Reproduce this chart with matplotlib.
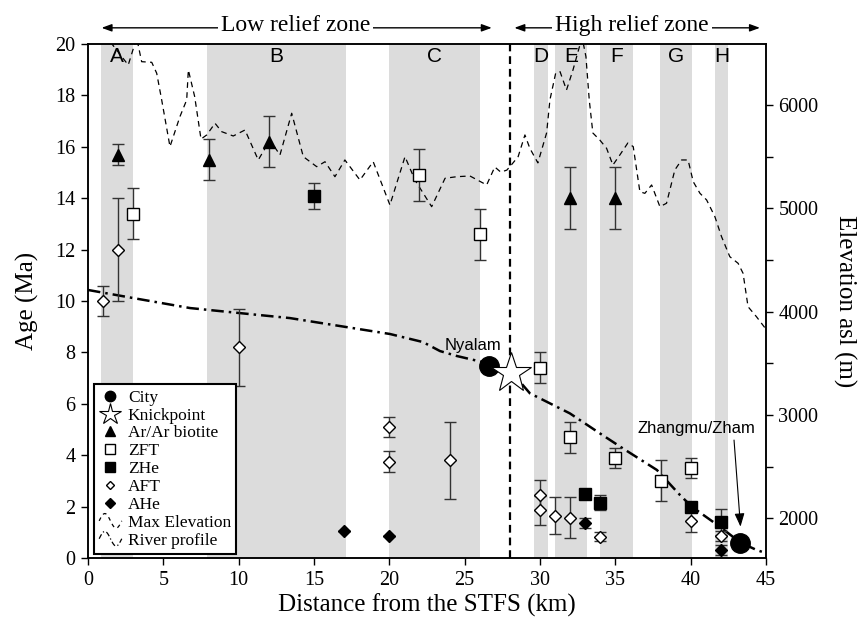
import numpy as np
import matplotlib
matplotlib.use("Agg")
import matplotlib.pyplot as plt
from matplotlib.lines import Line2D
from matplotlib.legend_handler import HandlerLine2D

SERIF = "Liberation Serif"
SANS = "Liberation Sans"

# sample ages (Ma) vs distance from STFS (km)
ar_x = [2, 8, 12, 32, 35]
ar_age = [15.7, 15.5, 16.2, 14.0, 14.0]
ar_err = [0.4, 0.8, 1.0, 1.2, 1.2]

zft_x = [3, 22, 26, 30, 32, 35, 38, 40]
zft_age = [13.4, 14.9, 12.6, 7.4, 4.7, 3.9, 3.0, 3.5]
zft_err = [1.0, 1.0, 1.0, 0.6, 0.6, 0.4, 0.8, 0.4]

zhe_x = [15, 33, 34, 40, 42]
zhe_age = [14.1, 2.5, 2.15, 2.0, 1.4]
zhe_err = [0.5, 0.2, 0.3, 0.0, 0.5]

aft_x = [1, 2, 10, 20, 20, 24, 30, 30, 31, 32, 34, 40, 42]
aft_age = [10.0, 12.0, 8.2, 5.1, 3.75, 3.8, 2.45, 1.85, 1.65, 1.57, 0.83, 1.45, 0.86]
aft_err = [0.6, 2.0, 1.5, 0.4, 0.4, 1.5, 0.6, 0.55, 0.72, 0.8, 0.18, 0.45, 0.2]

ahe_x = [17, 20, 33, 42]
ahe_age = [1.04, 0.86, 1.37, 0.31]
ahe_err = [0.0, 0.0, 0.2, 0.2]

# elevation profiles (km, m asl)
maxel_km = [1.3, 1.59, 2.67, 3.23, 3.56, 4.23, 4.56, 4.89, 5.44, 6.10, 6.55, 6.66,
            7.08, 7.5, 7.88, 8.43, 8.87, 9.64, 10.42, 11.30, 12.08, 12.74, 13.52,
            14.29, 15.18, 15.73, 16.39, 17.05, 18.05, 18.93, 20.04, 21.04, 21.70,
            22.81, 23.70, 24.47, 25.35, 26.46, 27.0, 27.4, 27.8, 28.1, 28.55, 29.0,
            29.33, 29.86, 30.44, 30.66, 31.04, 31.33, 31.76, 32.19, 32.62, 32.8,
            33.05, 33.27, 33.51, 33.97, 34.42, 34.84, 35.3, 35.83, 36.19, 36.63,
            36.96, 37.41, 37.96, 38.40, 38.95, 39.40, 39.83, 40.17, 40.62, 41.06,
            41.61, 42.05, 42.6, 43.15, 43.48, 43.81, 44.37, 45.04]
maxel_m = [6700, 6590, 6387, 6650, 6419, 6413, 6307, 6049, 5597, 5887, 6049, 6339,
           6081, 5670, 5710, 5823, 5742, 5700, 5758, 5468, 5661, 5516, 5920,
           5500, 5403, 5451, 5306, 5468, 5274, 5451, 5032, 5500, 5274,
           5016, 5291, 5306, 5313, 5226, 5400, 5350, 5370, 5420, 5500, 5710,
           5580, 5440, 5730, 6050, 6307, 6323, 6145, 6339, 6565, 6650,
           6468, 6049, 5729, 5661, 5581, 5419, 5516, 5632, 5597, 5161,
           5145, 5226, 5016, 5049, 5371, 5468, 5468, 5258, 5145, 5081,
           4919, 4726, 4532, 4468, 4371, 4048, 3951, 3823]

river_km = [0.0, 2.99, 6.77, 10.02, 13.40, 20.04, 22.23, 23.36, 24.48, 26.47, 26.6,
            28.1, 28.67, 29.33, 31.98, 33.97, 35.5, 37.76, 39.29, 40.08, 41.94,
            42.8, 43.33, 44.39, 45.05]
river_m = [4210, 4132, 4035, 3987, 3938, 3784, 3706, 3619, 3571, 3503, 3470,
           3410, 3322, 3210, 3016, 2823, 2677, 2468, 2226, 2112, 1919,
           1822, 1764, 1693, 1661]

city_names = ["Nyalam", "Zhangmu/Zham"]
city_km = [26.6, 43.3]
city_m = [3470, 1764]
knick_km = [28.1]
knick_m = [3410]

zone_labels = ["A", "B", "C", "D", "E", "F", "G", "H"]
zone_start = [0.87, 7.9, 20.0, 29.6, 31.0, 34.0, 37.95, 41.6]
zone_end = [2.97, 17.1, 26.0, 30.5, 33.15, 36.15, 40.1, 42.5]


class HandlerWiggle(HandlerLine2D):
    def create_artists(self, legend, orig_handle, xdescent, ydescent,
                       width, height, fontsize, trans):
        t = np.linspace(0, 1, 40)
        xs = -xdescent + width * t
        ys = -ydescent + height * (0.5 + 0.6 * np.sin(2 * np.pi * t))
        line = Line2D(xs, ys)
        self.update_prop(line, orig_handle, legend)
        line.set_transform(trans)
        return [line]


fig = plt.figure(figsize=(8.62, 6.27), dpi=100)
ax = fig.add_axes([0.1021, 0.110, 0.7865, 0.8198])
ax2 = ax.twinx()
ax.set_zorder(ax2.get_zorder() + 1)
ax.patch.set_visible(False)

# background layer: bands, profiles, cities
for s, e in zip(zone_start, zone_end):
    ax2.axvspan(s, e, color="#dcdcdc", lw=0, zorder=0)
ax2.plot(maxel_km, maxel_m, color="black", lw=0.9, ls=(0, (4.5, 3.5)), zorder=2)
ax2.plot(river_km, river_m, color="black", lw=1.8, ls=(0, (5, 2, 1, 2)), zorder=2)
ax2.axvline(28, color="black", lw=1.6, ls=(0, (3.5, 2.2)), zorder=3)
ax2.plot(city_km, city_m, "o", color="black", ms=14, zorder=4)
ax2.plot(knick_km, knick_m, "*", mfc="white", mec="black", mew=0.8, ms=30, zorder=5)
ax2.set_ylim(1616, 6590)
ax2.set_yticks([2000, 3000, 4000, 5000, 6000])
ax2.set_yticks([2500, 3500, 4500, 5500], minor=True)

# thermochronology ages
eb = dict(ls="none", ecolor="#333333", elinewidth=1, capsize=4.5, capthick=1, zorder=6)
ax.errorbar(ar_x, ar_age, yerr=ar_err, fmt="^", ms=8, mfc="black", mec="black", **eb)
ax.errorbar(zft_x, zft_age, yerr=zft_err, fmt="s", ms=8, mfc="white", mec="black", mew=1, **eb)
ax.errorbar(zhe_x, zhe_age, yerr=zhe_err, fmt="s", ms=8, mfc="black", mec="black", **eb)
ax.errorbar(aft_x, aft_age, yerr=aft_err, fmt="D", ms=5.8, mfc="white", mec="black", mew=1, **eb)
ax.errorbar(ahe_x, ahe_age, yerr=ahe_err, fmt="D", ms=5.8, mfc="black", mec="black", **eb)

ax.set_xlim(0, 45)
ax.set_ylim(0, 20)
ax.set_xticks(range(0, 50, 5))
ax.set_yticks(range(0, 22, 2))

for a in (ax, ax2):
    a.tick_params(which="both", direction="out", length=5, width=1, labelsize=14.5, pad=4)
    for lab in a.get_xticklabels() + a.get_yticklabels():
        lab.set_family(SERIF)
    for sp in a.spines.values():
        sp.set_linewidth(1.1)

for lab, s, e in zip(zone_labels, zone_start, zone_end):
    ax.text((s + e) / 2, 19.5, lab, ha="center", va="center", fontsize=15, family=SANS)

ax.set_xlabel("Distance from the STFS (km)", fontsize=18, family=SERIF, va="center")
ax.xaxis.set_label_coords(0.5, -0.0914)
ax.set_ylabel("Age (Ma)", fontsize=18, family=SERIF, va="center")
ax.yaxis.set_label_coords(-0.09, 0.5)
ax2.set_ylabel("Elevation asl (m)", fontsize=18, family=SERIF, rotation=270, va="center")
ax2.yaxis.set_label_coords(1.1165, 0.5)

# zone arrows above the plot
arr = dict(arrowstyle="<|-|>,head_length=0.6,head_width=0.22", lw=1, color="black",
           shrinkA=0, shrinkB=0, mutation_scale=10)
ax.annotate("", xy=(0.9, 20.63), xytext=(26.8, 20.63), arrowprops=arr, annotation_clip=False)
ax.annotate("", xy=(28.3, 20.63), xytext=(44.6, 20.63), arrowprops=arr, annotation_clip=False)
ax.text(13.8, 20.72, "Low relief zone", ha="center", va="center", fontsize=17, family=SERIF,
        bbox=dict(fc="white", ec="none", pad=2), clip_on=False)
ax.text(36.1, 20.72, "High relief zone", ha="center", va="center", fontsize=17, family=SERIF,
        bbox=dict(fc="white", ec="none", pad=2), clip_on=False)

# city labels
ax.text(23.7, 8.27, city_names[0], ha="left", va="center", fontsize=12, family=SANS, zorder=7)
ax.text(36.5, 5.05, city_names[1], ha="left", va="center", fontsize=12, family=SANS, zorder=7)
ax.annotate("", xy=(43.31, 1.22), xytext=(42.88, 4.59),
            arrowprops=dict(arrowstyle="-|>,head_length=0.8,head_width=0.3", lw=0.8,
                            color="black", shrinkA=0, shrinkB=0, mutation_scale=10))

handles = [
    Line2D([], [], marker="o", ls="none", color="black", ms=7.5),
    Line2D([], [], marker="*", ls="none", mfc="white", mec="black", mew=0.8, ms=16),
    Line2D([], [], marker="^", ls="none", color="black", ms=7),
    Line2D([], [], marker="s", ls="none", mfc="white", mec="black", mew=1, ms=7),
    Line2D([], [], marker="s", ls="none", color="black", ms=7),
    Line2D([], [], marker="D", ls="none", mfc="white", mec="black", mew=1, ms=4.5),
    Line2D([], [], marker="D", ls="none", color="black", ms=5),
    Line2D([], [], color="black", lw=0.9, ls=(0, (3, 3))),
    Line2D([], [], color="black", lw=0.9, ls=(0, (4, 2, 1, 2))),
]
labels = ["City", "Knickpoint", "Ar/Ar biotite", "ZFT", "ZHe", "AFT", "AHe",
          "Max Elevation", "River profile"]
hmap = {handles[7]: HandlerWiggle(), handles[8]: HandlerWiggle()}
leg = ax.legend(handles, labels, loc="lower left", bbox_to_anchor=(0.0088, 0.0078),
                borderaxespad=0, prop={"family": SERIF, "size": 12.5}, frameon=True,
                fancybox=False, edgecolor="black", framealpha=1, labelspacing=0.1,
                handlelength=1.3, handletextpad=0.35, borderpad=0.3, handler_map=hmap)
leg.get_frame().set_linewidth(1.5)
leg.set_zorder(10)

fig.savefig("out.png", dpi=100)
